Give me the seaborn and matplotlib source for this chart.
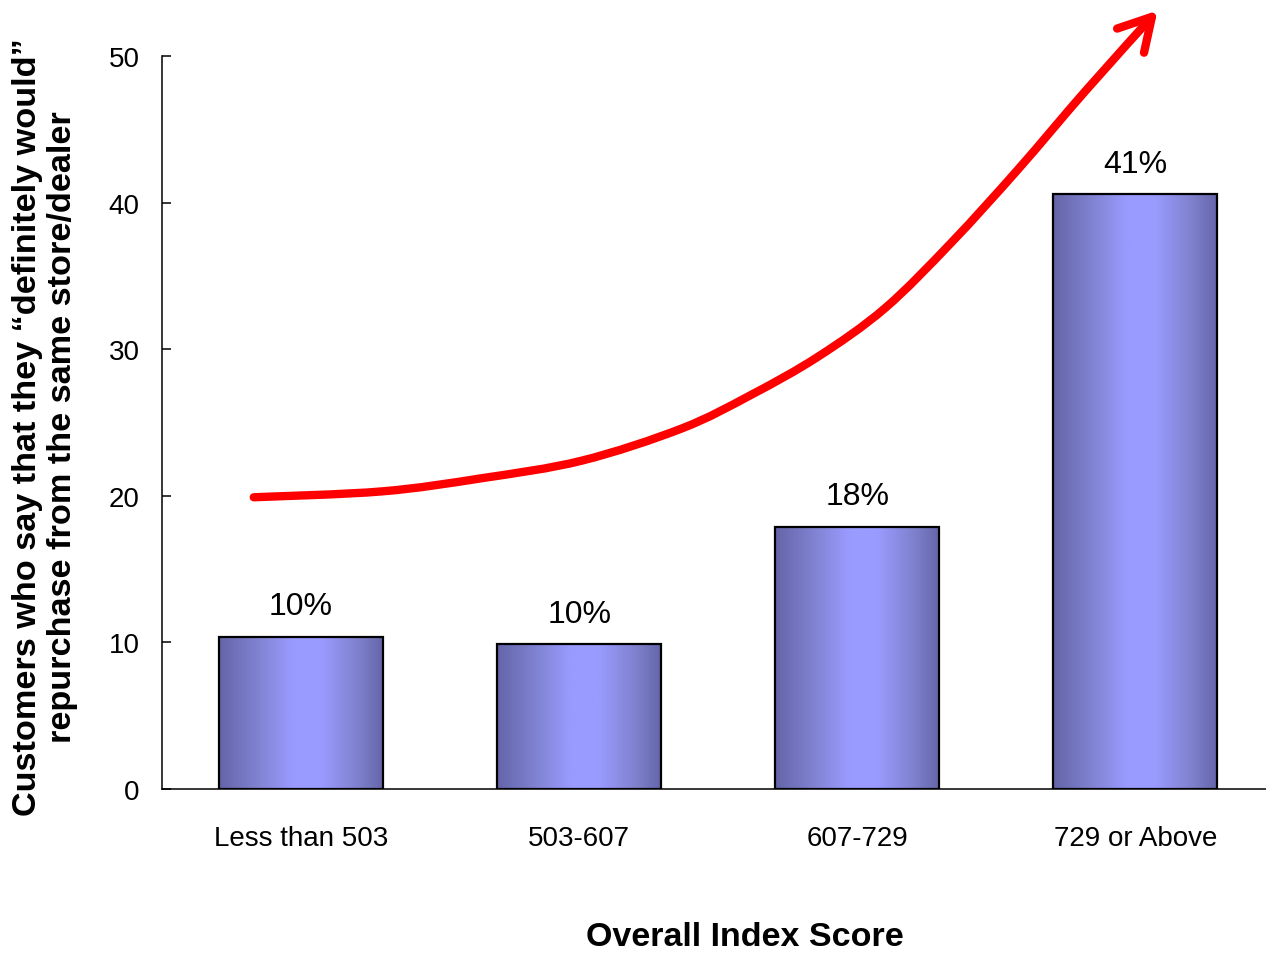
import numpy as np
import pandas as pd
import matplotlib
matplotlib.use("Agg")
import matplotlib.pyplot as plt
import seaborn as sns
from matplotlib.colors import LinearSegmentedColormap
from matplotlib.patches import FancyArrowPatch
from matplotlib.path import Path

# ---- data ----
categories = ["Less than 503", "503-607", "607-729", "729 or Above"]
values = [10.4, 9.9, 17.9, 40.6]
value_labels = ["10%", "10%", "18%", "41%"]
y_ticks = [0, 10, 20, 30, 40, 50]

# trend arrow (decorative), in data coordinates (x = category index, y = value units)
arrow_x = [-0.17, 0.29, 0.65, 1.01, 1.37, 1.62, 1.86, 2.10, 2.34, 2.58, 2.82, 3.08]
arrow_y = [19.9, 20.3, 21.2, 22.4, 24.6, 26.9, 29.5, 32.8, 37.3, 42.3, 47.6, 53.1]

sns.set_theme(style="white")
plt.rcParams["font.family"] = ["Liberation Sans", "DejaVu Sans"]

fig = plt.figure(figsize=(12.66, 9.54), dpi=100)
ax = fig.add_axes([162 / 1266, 164 / 954, 1 - 162 / 1266, (790 - 57) / 954])

df = pd.DataFrame({"cat": categories, "val": values})
sns.barplot(data=df, x="cat", y="val", ax=ax, width=0.59, color="#8888dd",
            edgecolor="black", linewidth=1.6, saturation=1)

cmap = LinearSegmentedColormap.from_list(
    "barg", [(0.0, "#6465a8"), (0.25, "#8284d4"), (0.45, "#9a9bff"),
             (0.62, "#9a9bff"), (0.85, "#7e80cc"), (1.0, "#6465a8")])
grad = np.linspace(0, 1, 256).reshape(1, -1)
for p in ax.patches:
    x0, y0 = p.get_x(), p.get_y()
    w, h = p.get_width(), p.get_height()
    im = ax.imshow(grad, cmap=cmap, aspect="auto",
                   extent=[x0, x0 + w, y0, y0 + h], zorder=p.get_zorder() - 0.1,
                   interpolation="bicubic")
    im.set_clip_path(p)
    p.set_facecolor("none")
    p.set_zorder(p.get_zorder() + 0.2)

for i, (v, lab) in enumerate(zip(values, value_labels)):
    ax.annotate(lab, (i, v), xytext=(0, 11), textcoords="offset points",
                ha="center", va="bottom", fontsize=23, color="black")

ax.set_xlim(-0.5, 3.47)
ax.set_ylim(0, 50)
ax.set_yticks(y_ticks)
ax.set_yticklabels([str(t) for t in y_ticks])

for s in ["top", "right"]:
    ax.spines[s].set_visible(False)
for s in ["left", "bottom"]:
    ax.spines[s].set_color("black")
    ax.spines[s].set_linewidth(1.1)

ax.tick_params(axis="y", direction="in", length=6.5, width=1.1, color="black",
               labelsize=20, pad=16, left=True)
ax.tick_params(axis="x", length=0, labelsize=20, pad=26)
for t in ax.get_xticklabels() + ax.get_yticklabels():
    t.set_color("black")

ax.set_xlabel("Overall Index Score", fontsize=24.5, fontweight="bold", color="black")
ax.xaxis.set_label_coords((745 - 162) / 1104, (790 - 938) / 733)
ax.xaxis.label.set_va("center")

ax.set_ylabel("Customers who say that they \u201cdefinitely would\u201d\nrepurchase from the same store/dealer",
              fontsize=24.7, fontweight="bold", color="black", linespacing=1.2)
ax.yaxis.set_label_coords(-(162 - 45) / 1104, (790 - 427) / 733)
ax.yaxis.label.set_va("center")

# smooth path through the arrow points (Catmull-Rom -> cubic Bezier)
pts = np.column_stack([arrow_x, arrow_y])
verts = [tuple(pts[0])]
codes = [Path.MOVETO]
n = len(pts)
for i in range(n - 1):
    p0 = pts[i - 1] if i > 0 else pts[i]
    p1 = pts[i]
    p2 = pts[i + 1]
    p3 = pts[i + 2] if i + 2 < n else pts[i + 1]
    c1 = p1 + (p2 - p0) / 6.0
    c2 = p2 - (p3 - p1) / 6.0
    verts += [tuple(c1), tuple(c2), tuple(p2)]
    codes += [Path.CURVE4] * 3
path = Path(verts, codes)
arrow = FancyArrowPatch(path=path, arrowstyle="->,head_length=2.3,head_width=1.3",
                        color="#ff0000", lw=6, mutation_scale=10,
                        capstyle="round", joinstyle="round",
                        shrinkA=0, shrinkB=0,
                        transform=ax.transData, clip_on=False, zorder=5)
ax.add_patch(arrow)

fig.savefig("out.png", dpi=100, facecolor="white")
